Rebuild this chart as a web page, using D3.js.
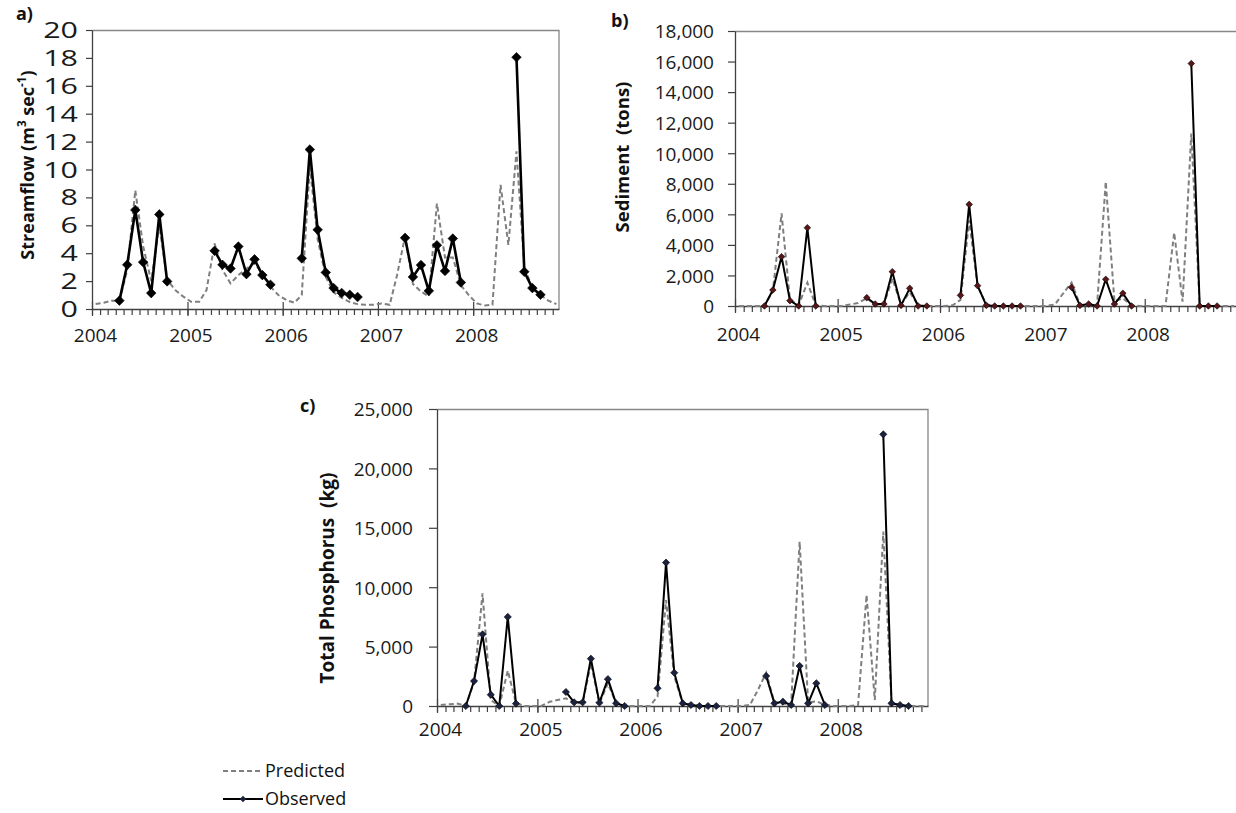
<!DOCTYPE html>
<html>
<head>
<meta charset="utf-8">
<script src="https://cdn.jsdelivr.net/npm/d3@7"></script>
<style>
  body { margin: 0; background: #fff; }
  text { font-family: "Open Sans", sans-serif; }
</style>
</head>
<body>
<div id="chart"></div>
<script>
// Monthly values, Jan 2004 .. Nov 2008 (plotted mid-month)
var months = d3.range(59).map(function(i) { return new Date(2004, i, 15); });
var yearTicks = ["2004", "2005", "2006", "2007", "2008"];

// a) streamflow (m3/sec)
var flowPredicted = [0.36, 0.45, 0.6, 0.6, 2.8, 8.5, 4.5, 2.0, 6.0, 2.1, 1.36, 0.9,
  0.52, 0.52, 1.36, 4.7, 2.8, 1.84, 2.43, 2.9, 3.27, 2.55, 1.6, 1.0,
  0.64, 0.45, 1.0, 10.2, 5.0, 2.3, 1.2, 0.8, 0.5, 0.35, 0.3, 0.3,
  0.4, 0.3, 2.4, 5.2, 1.8, 1.25, 0.9, 7.56, 3.7, 3.7, 1.7, 1.0,
  0.4, 0.25, 0.3, 8.9, 4.6, 11.3, 3.0, 1.5, 1.0, 0.6, 0.35];
var flowObserved = [null, null, null, 0.6, 3.17, 7.1, 3.36, 1.14, 6.78, 1.98, null, null,
  null, null, null, 4.17, 3.17, 2.9, 4.48, 2.5, 3.56, 2.43, 1.74, null,
  null, null, 3.63, 11.43, 5.68, 2.62, 1.5, 1.15, 1.02, 0.86, null, null,
  null, null, null, 5.1, 2.3, 3.15, 1.3, 4.57, 2.73, 5.05, 1.9, null,
  null, null, null, null, null, 18.05, 2.67, 1.5, 1.02, null, null];

// b) sediment (tons)
var sedPredicted = [0, 0, 0, 0, 1000, 6060, 400, 50, 1530, 50, 0, 0,
  0, 100, 200, 500, 100, 100, 1800, 100, 900, 50, 0, 0,
  0, 50, 400, 5600, 1300, 100, 0, 0, 0, 0, 0, 0,
  0, 100, 800, 1530, 100, 50, 50, 8130, 300, 500, 50, 0,
  0, 0, 0, 4800, 280, 11290, 0, 0, 0, 0, 0];
var sedObserved = [null, null, null, 0, 1046, 3226, 350, 0, 5120, 0, null, null,
  null, null, null, 545, 130, 130, 2245, 40, 1155, 0, 0, null,
  null, null, 698, 6650, 1330, 44, 0, 0, 0, 0, null, null,
  null, null, null, 1220, 40, 130, 0, 1744, 130, 830, 0, null,
  null, null, null, null, null, 15870, 0, 0, 0, null, null];

// c) total phosphorus (kg)
var tpPredicted = [85, 150, 200, 0, 2000, 9480, 500, 0, 2975, 225, 0, 0,
  0, 360, 500, 650, 225, 225, 3600, 225, 1900, 225, 0, 0,
  0, 0, 800, 8920, 2500, 200, 100, 0, 0, 0, 0, 0,
  0, 100, 1300, 2800, 300, 200, 100, 13830, 300, 400, 100, 0,
  0, 0, 80, 9340, 500, 14680, 300, 50, 0, 0, 0];
var tpObserved = [null, null, null, 0, 2100, 6030, 950, 0, 7500, 200, null, null,
  null, null, null, 1180, 310, 310, 3980, 280, 2260, 225, 0, null,
  null, null, 1490, 12070, 2800, 225, 85, 0, 0, 0, null, null,
  null, null, null, 2525, 225, 365, 85, 3370, 225, 1910, 85, null,
  null, null, null, null, null, 22870, 225, 85, 0, null, null];

var legendLabels = ["Predicted", "Observed"];

var svgWidth = 1236;
var svgHeight = 813;
var xDomain = [new Date(2004, 0, 1), new Date(2008, 10, 25)];

var svg = d3.select("#chart")
  .append("svg")
  .attr("width", svgWidth)
  .attr("height", svgHeight)
  .style("background", "#fff");

function diamond(r) {
  return "M0," + (-r) + "L" + r + ",0L0," + r + "L" + (-r) + ",0Z";
}

function drawPanel(p) {
  var g = svg.append("g").attr("transform", `translate(${p.left}, ${p.top})`);

  var x = d3.scaleTime().domain(xDomain).range([0, p.width]);
  var y = d3.scaleLinear().domain([0, p.yMax]).range([p.height, 0]);

  // plot area border (top and right)
  g.append("path")
    .attr("d", `M0,0.5H${p.width}V${p.height}`)
    .attr("fill", "none")
    .attr("stroke", "#878787")
    .attr("stroke-width", 1.3);

  // monthly minor ticks + axis line
  var minor = g.append("g")
    .attr("transform", `translate(0, ${p.height})`)
    .call(d3.axisBottom(x).ticks(d3.timeMonth.every(1)).tickSize(6).tickSizeOuter(0).tickFormat(""));

  // yearly major ticks crossing the axis, with labels
  var major = g.append("g")
    .attr("transform", `translate(0, ${p.height - 7})`)
    .call(d3.axisBottom(x).ticks(d3.timeYear.every(1)).tickSize(14).tickPadding(p.xPad)
      .tickFormat(function(d, i) { return yearTicks[i]; }));
  major.select(".domain").remove();
  major.selectAll("text").attr("font-size", p.xFont).attr("dx", 3);

  var yAxis = g.append("g")
    .call(d3.axisLeft(y)
      .tickValues(d3.range(0, p.yMax + 1, p.yStep))
      .tickSize(p.yTick)
      .tickSizeOuter(0)
      .tickPadding(p.yPad)
      .tickFormat(p.yFormat));
  yAxis.selectAll("text").attr("font-size", p.yFont).attr("dy", "0.36em");
  if (p.yStretch) {
    yAxis.selectAll("text")
      .attr("x", -(p.yTick + p.yPad) / p.yStretch)
      .attr("transform", `scale(${p.yStretch},1)`);
  }

  [minor, major, yAxis].forEach(function(a) {
    a.attr("font-family", null);
    a.selectAll("line").attr("stroke", "#404040").attr("stroke-width", 1.2);
    a.selectAll(".domain").attr("stroke", "#404040").attr("stroke-width", 1.3);
    a.selectAll("text").attr("fill", "#1a1a1a");
  });

  // predicted (dashed)
  var predLine = d3.line()
    .x(function(d, i) { return x(months[i]); })
    .y(function(d) { return y(d); });

  g.append("path")
    .datum(p.predicted)
    .attr("d", predLine)
    .attr("fill", "none")
    .attr("stroke", "#7f7f7f")
    .attr("stroke-width", 2)
    .attr("stroke-dasharray", "5,3");

  // observed (solid with markers, broken between sampling periods)
  var obsLine = d3.line()
    .defined(function(d) { return d !== null; })
    .x(function(d, i) { return x(months[i]); })
    .y(function(d) { return y(d); });

  g.append("path")
    .datum(p.observed)
    .attr("d", obsLine)
    .attr("fill", "none")
    .attr("stroke", "#000")
    .attr("stroke-width", p.obsWidth)
    .attr("stroke-linejoin", "round");

  var pts = p.observed.map(function(v, i) { return { v: v, i: i }; })
    .filter(function(d) { return d.v !== null; });

  g.selectAll(".marker")
    .data(pts)
    .enter()
    .append("path")
    .attr("class", "marker")
    .attr("d", diamond(p.markerR))
    .attr("transform", function(d) { return `translate(${x(months[d.i])}, ${y(d.v)})`; })
    .attr("fill", p.markerColor)
    .attr("stroke", "#000")
    .attr("stroke-width", 0.6);

  // axis title
  var title = svg.append("text")
    .attr("transform", `translate(${p.titleX}, ${p.titleY}) rotate(-90)`)
    .attr("text-anchor", "middle")
    .attr("font-size", p.titleFont)
    .attr("font-weight", "bold")
    .attr("fill", "#111");
  p.title.forEach(function(t) {
    var s = title.append("tspan").text(t.text);
    if (t.sup) s.attr("baseline-shift", "super").attr("font-size", p.titleFont * 0.65);
  });

  // panel letter
  svg.append("text")
    .attr("x", p.letterX)
    .attr("y", p.letterY)
    .attr("font-size", 18)
    .attr("font-weight", "bold")
    .attr("fill", "#111")
    .text(p.letter);
}

drawPanel({
  left: 92, top: 30, width: 467, height: 279,
  yMax: 20, yStep: 2, yFormat: d3.format("d"),
  yTick: 6, yPad: 8, yFont: 21, yStretch: 1.45, xFont: 19, xPad: 13,
  predicted: flowPredicted, observed: flowObserved,
  obsWidth: 2.6, markerR: 4.8, markerColor: "#000",
  title: [{ text: "Streamflow (m" }, { text: "3", sup: true }, { text: " sec" }, { text: "-1", sup: true }, { text: ")" }],
  titleX: 34, titleY: 165, titleFont: 18,
  letter: "a)", letterX: 16, letterY: 20
});

drawPanel({
  left: 735, top: 31, width: 502, height: 275,
  yMax: 18000, yStep: 2000, yFormat: d3.format(","),
  yTick: 7, yPad: 14, yFont: 19, xFont: 19, xPad: 15,
  predicted: sedPredicted, observed: sedObserved,
  obsWidth: 2, markerR: 3.3, markerColor: "#5a1518",
  title: [{ text: "Sediment\u00a0\u00a0(tons)" }],
  titleX: 629, titleY: 157, titleFont: 18.5,
  letter: "b)", letterX: 611, letterY: 27
});

drawPanel({
  left: 437, top: 409, width: 491, height: 297,
  yMax: 25000, yStep: 5000, yFormat: d3.format(","),
  yTick: 8, yPad: 16, yFont: 19, xFont: 19, xPad: 10,
  predicted: tpPredicted, observed: tpObserved,
  obsWidth: 2, markerR: 3.6, markerColor: "#1b2240",
  title: [{ text: "Total Phosphorus\u00a0\u00a0(kg)" }],
  titleX: 334, titleY: 578, titleFont: 19,
  letter: "c)", letterX: 300, letterY: 412
});

// legend
var legend = svg.append("g");
legend.append("line")
  .attr("x1", 223).attr("x2", 263).attr("y1", 771).attr("y2", 771)
  .attr("stroke", "#7f7f7f").attr("stroke-width", 2).attr("stroke-dasharray", "5,3");
legend.append("line")
  .attr("x1", 223).attr("x2", 263).attr("y1", 799).attr("y2", 799)
  .attr("stroke", "#000").attr("stroke-width", 2);
legend.append("path")
  .attr("d", diamond(3.2))
  .attr("transform", "translate(243, 799)")
  .attr("fill", "#1b2240");
legend.selectAll(".lg")
  .data(legendLabels)
  .enter()
  .append("text")
  .attr("class", "lg")
  .attr("x", 265)
  .attr("y", function(d, i) { return 777 + i * 28; })
  .attr("font-size", 18)
  .attr("fill", "#111")
  .text(function(d) { return d; });
</script>
</body>
</html>
